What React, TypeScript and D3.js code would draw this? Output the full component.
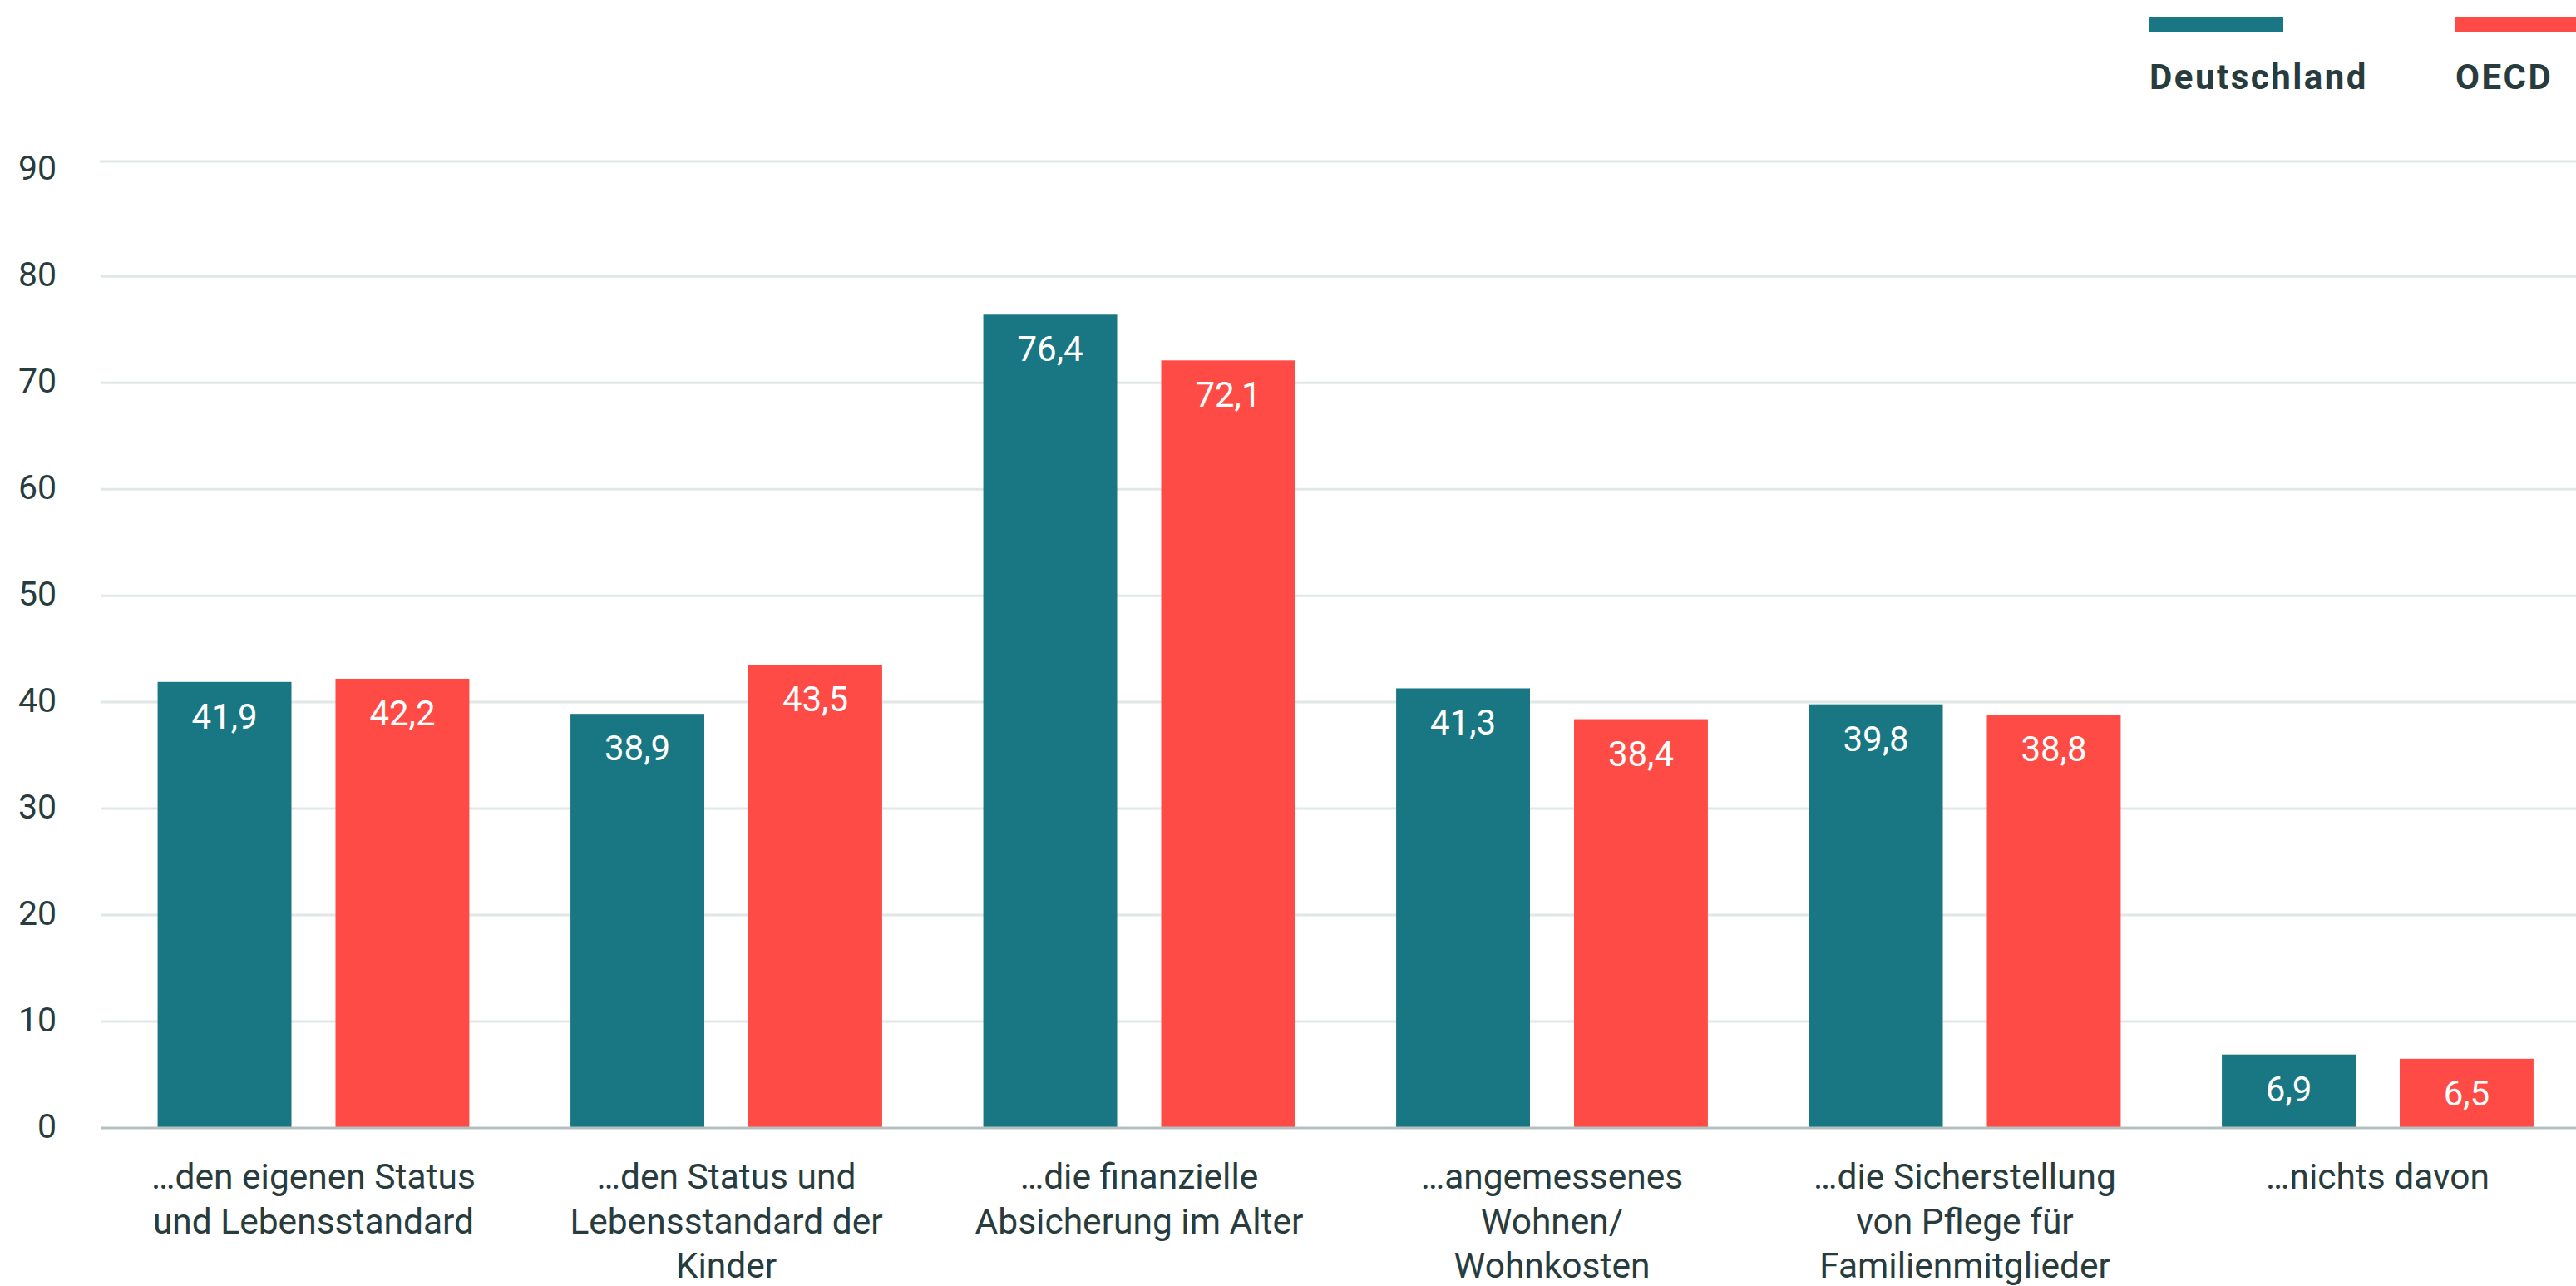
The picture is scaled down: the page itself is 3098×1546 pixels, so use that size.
import React from 'react';
import * as d3 from 'd3';

const categories: string[] = [
  '…den eigenen Status\nund Lebensstandard',
  '…den Status und\nLebensstandard der\nKinder',
  '…die finanzielle\nAbsicherung im Alter',
  '…angemessenes\nWohnen/\nWohnkosten',
  '…die Sicherstellung\nvon Pflege für\nFamilienmitglieder',
  '…nichts davon',
];
const seriesNames: string[] = ['Deutschland', 'OECD'];
const deutschland: number[] = [41.9, 38.9, 76.4, 41.3, 39.8, 6.9];
const oecd: number[] = [42.2, 43.5, 72.1, 38.4, 38.8, 6.5];
const yTicks: number[] = [0, 10, 20, 30, 40, 50, 60, 70, 80, 90];
const yMax = 90.8;
const seriesColors: string[] = ['#197783', '#FF4B45'];

const W = 3098;
const H = 1546;
const TEXT = '#283c3e';
const FONT = 'Roboto, "Noto Sans", sans-serif';

const locale = d3.formatLocale({ decimal: ',', thousands: '.', grouping: [3], currency: ['', '€'] });
const fmt = locale.format('.1f');

export default function App() {
  const plotTop = 194;
  const plotBottom = 1356;
  const gridLeft = 121;
  const y = d3.scaleLinear().domain([0, yMax]).range([plotBottom, plotTop]);
  const x0 = d3
    .scaleBand<string>()
    .domain(categories)
    .range([128.75, 3107.75])
    .paddingInner(0.245)
    .paddingOuter(0.1225);
  const x1 = d3
    .scaleBand<string>()
    .domain(seriesNames)
    .range([0, x0.bandwidth()])
    .paddingInner(0.2477)
    .paddingOuter(0);
  const series = [deutschland, oecd];

  const legendX = [2585, 2953];

  return (
    <svg
      width={W}
      height={H}
      style={{ position: 'absolute', left: 0, top: 0, background: '#fff' }}
      fontFamily={FONT}
    >
      {/* legend */}
      {seriesNames.map((s, i) => (
        <g key={s} transform={`translate(${legendX[i]},0)`}>
          <rect x={0} y={21} width={161} height={17} fill={seriesColors[i]} />
          <text x={0} y={107} fontSize={42} fontWeight={700} letterSpacing={2.5} fill={TEXT}>
            {s}
          </text>
        </g>
      ))}

      {/* grid */}
      {yTicks.slice(1, -1).map((t) => (
        <line key={t} x1={gridLeft} x2={W} y1={y(t)} y2={y(t)} stroke="#e1e7e7" strokeWidth={3} />
      ))}
      <line x1={gridLeft - 1} x2={W} y1={y(yMax)} y2={y(yMax)} stroke="#e1e7e7" strokeWidth={3} />

      {/* y tick labels */}
      {yTicks.map((t) => (
        <text key={t} x={68} y={y(t) + 12} textAnchor="end" fontSize={41} fill={TEXT}>
          {t}
        </text>
      ))}

      {/* bars */}
      {categories.map((c, ci) => (
        <g key={c} transform={`translate(${x0(c)},0)`}>
          {seriesNames.map((s, si) => {
            const v = series[si][ci];
            const bx = x1(s) as number;
            return (
              <g key={s}>
                <rect x={bx} y={y(v)} width={x1.bandwidth()} height={y(0) - y(v)} fill={seriesColors[si]} />
                <text
                  x={bx + x1.bandwidth() / 2}
                  y={y(v) + 56}
                  textAnchor="middle"
                  fontSize={42}
                  fill="#ffffff"
                >
                  {fmt(v)}
                </text>
              </g>
            );
          })}
        </g>
      ))}

      {/* baseline */}
      <line x1={gridLeft} x2={W} y1={y(0)} y2={y(0)} stroke="#b5c1c1" strokeWidth={3} />

      {/* category labels */}
      {categories.map((c) => {
        const cx = (x0(c) as number) + x0.bandwidth() / 2;
        return (
          <text key={c} textAnchor="middle" fontSize={42.5} fill={TEXT}>
            {c.split('\n').map((line, li) => (
              <tspan key={li} x={cx} y={1429 + li * 53.5}>
                {line}
              </tspan>
            ))}
          </text>
        );
      })}
    </svg>
  );
}
